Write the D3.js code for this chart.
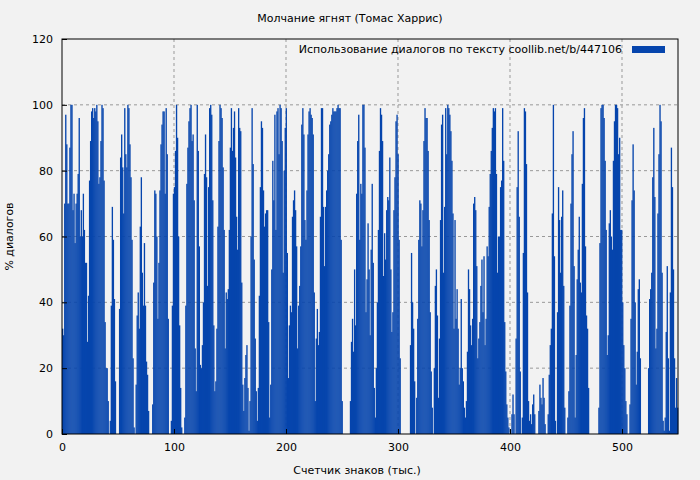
<!DOCTYPE html>
<html><head><meta charset="utf-8">
<script src="https://cdn.jsdelivr.net/npm/d3@7"></script>
<style>body{margin:0;background:#f2f2f2}svg{display:block}text{font-family:"DejaVu Sans",sans-serif;font-size:11px;fill:#000}</style>
</head><body>
<script>
const title = "Молчание ягнят (Томас Харрис)";
const xLabel = "Счетчик знаков (тыс.)";
const yLabel = "% диалогов";
const legendLabel = "Использование диалогов по тексту  coollib.net/b/447106";
const xTicks = [0,100,200,300,400,500];
const yTicks = [0,20,40,60,80,100,120];
const seg1 = [32,30,70,97,88,70,70,87,100,100,68,73,58,70,73,79,96,60,68,60,73,62,52,52,28,42,77,89,98,99,96,99,98,100,95,76,78,89,100,99,77,34,20,20,10,0,4,39,69,59,41,16,0,0,0,38,84,91,81,67];
const seg2 = [99,85,81,100,99,88,78,59,23,2,0,15,36,43,32,63,78,49,39,58,39,22,18,7,0,0,0,9,46,74,73,60,35,52,74,88,94,98,98,73,99,85,35,0,0,4,39,73,75,86,100,90,60,33,14,2,0,0,5,39,76,87,95,99];
const seg3 = [100,89,91,71,26,13,100,86,57,21,20,27,40,79,91,78,45,75,99,100,97,71,33,13,16,32,63,89,100,99,96,81,62,26,43,41,44,62,87,99,86,93,98,84,66,56,99,93,92,46,15,7,17,24,27,14,1,10,60,99,82,53,29];
const seg4 = [13,4,14,42,75,95,93,74,63,67,68,68,34,5,15,50,83,71,97,62,98,99,85,100,99,89,49,80,93,99,55,17,33,39,37,66,71,74,68,57,26,39,45,57,94,99,91,65,59,74,91,98,99,97,96,91,43,10,29,38,27,31,66,99,99,69,51];
const seg5 = [69,74,80,85,94,95,97,99,98,98,98,99,100,99,99,59,10,0,0,0,0,0,0,0,10,28,35,25,50,33,73,89,97,59,76,73,100,100,87,37,47,64,50,30,56,76,52,14,5,20,40,62,86,99,97,89,48,61,53,68,72,71,84,50,31,37,68];
const seg6 = [78,95,97,85,59,23,0,0,0,0,0,0,0,0,0,27,55,40,32,16,0,11,35,59,71,70,57,68,89,99,96,96,86,65,37,19,8,0,20,45,50,36,11,29,65,94,97,49,69,99,85,100,99,97,92,83,67,32,65,35,44,32,15,20,41,20,16,8];
const seg7 = [5,10,25,50,44,33,27,35,70,72,68,51,23,29,34,45,53,37,54,27,35,57,54,69,79,86,93,99,98,99,79,49,60,60,75,77,99,83,34,19,9,5,2,0,0,6,12,6,0,29,75,92,66,19,0,5,55,99,98,82,43,10,4,6,3,9,12];
const seg8 = [6,0,0,0,7,15,11,9,17,11,3,0,0,6,18,27,32,67,100,54,4,0,37,75,65,49,66,74,45,8,0,0,5,13,39,70,85,92,51,5,24,47,56,66,46,43,76,96,99,57,36,32,14,0,0,0,0,0,0,0,0,0,8,58,99,100,100];
const seg9 = [96,83,62,24,30,64,68,60,56,83,95,100,100,99,85,90,62,62,40,27,20,10,6,0,0,9,35,71,88,74,40,15,25,44,47,23,0,0,0,0,0,0,0,20,41,44,49,78,93,72,26,32,67,85,100,95,49,4,1,5,31,51,23,1,43,87,75,50,23,8,17,8];
const values = [].concat(seg1,seg2,seg3,seg4,seg5,seg6,seg7,seg8,seg9);

const W=700,H=480,L=62,R=678,T=39,B=434;
const svg=d3.select("body").append("svg").attr("width",W).attr("height",H);
const x=d3.scaleLinear().domain([0,550]).range([L,R]);
const xi=d3.scaleBand().domain(d3.range(values.length)).range([L,R]).padding(0);
const y=d3.scaleLinear().domain([0,120]).range([B,T]);

svg.append("g").selectAll("line").data(yTicks.slice(1,-1)).join("line")
 .attr("x1",L).attr("x2",R).attr("y1",d=>y(d)).attr("y2",d=>y(d))
 .attr("stroke","#999").attr("stroke-dasharray","3,3");
svg.append("g").selectAll("line").data(xTicks.slice(1)).join("line")
 .attr("x1",d=>x(d)).attr("x2",d=>x(d)).attr("y1",T).attr("y2",B)
 .attr("stroke","#999").attr("stroke-dasharray","3,3");

svg.append("g").selectAll("rect").data(values).join("rect")
 .attr("x",(d,i)=>xi(i)).attr("width",xi.bandwidth()+0.3)
 .attr("y",d=>y(d)).attr("height",d=>B-y(d)).attr("fill","#0645ad");

svg.append("rect").attr("x",L).attr("y",T).attr("width",R-L).attr("height",B-T)
 .attr("fill","none").attr("stroke","#000");

const xa=svg.append("g").attr("transform",`translate(0,${B})`)
 .call(d3.axisBottom(x).tickValues(xTicks).tickSize(-5).tickPadding(9));
xa.select(".domain").remove();
const ya=svg.append("g").attr("transform",`translate(${L},0)`)
 .call(d3.axisLeft(y).tickValues(yTicks).tickSize(-5).tickPadding(9));
ya.select(".domain").remove();
svg.selectAll(".tick text").style("font-family","DejaVu Sans").style("font-size","11px");

svg.append("text").attr("x",W/2).attr("y",22).attr("text-anchor","middle").text(title);
svg.append("text").attr("x",W/2+7).attr("y",474).attr("text-anchor","middle").text(xLabel);
svg.append("text").attr("transform",`translate(13,${(T+B)/2}) rotate(-90)`).attr("text-anchor","middle").text(yLabel);
svg.append("text").attr("x",622).attr("y",53).attr("text-anchor","end").text(legendLabel);
svg.append("rect").attr("x",632).attr("y",46).attr("width",33).attr("height",7).attr("fill","#0645ad");
</script>
</body></html>
